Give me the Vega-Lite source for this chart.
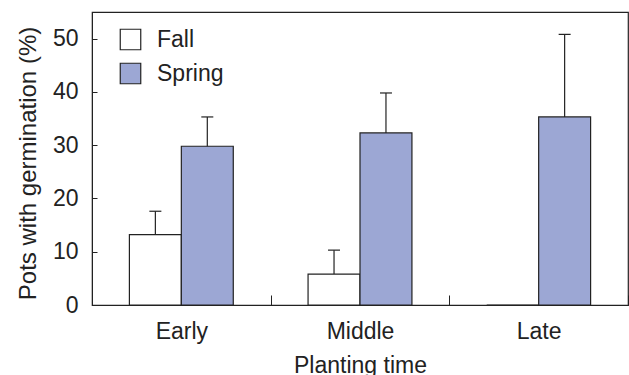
{
  "$schema": "https://vega.github.io/schema/vega-lite/v6.json",
  "width": 536,
  "height": 293,
  "autosize": "none",
  "padding": {"left": 92, "top": 12, "right": 1, "bottom": 70},
  "background": "white",
  "config": {
    "font": "Liberation Sans",
    "view": {"stroke": "#222", "strokeWidth": 1.2},
    "axis": {"domainColor": "#222", "tickColor": "#222", "labelColor": "#222", "titleColor": "#222", "grid": false, "labelFont": "Liberation Sans", "titleFont": "Liberation Sans", "titleFontWeight": "normal"}
  },
  "data": {
    "values": [
      {"time": "Early", "season": "Fall", "value": 13.2, "upper": 17.6},
      {"time": "Early", "season": "Spring", "value": 29.8, "upper": 35.3},
      {"time": "Middle", "season": "Fall", "value": 5.8, "upper": 10.3},
      {"time": "Middle", "season": "Spring", "value": 32.3, "upper": 39.8},
      {"time": "Late", "season": "Fall", "value": 0, "upper": null},
      {"time": "Late", "season": "Spring", "value": 35.3, "upper": 50.8}
    ]
  },
  "encoding": {
    "x": {
      "field": "time", "type": "nominal", "sort": ["Early", "Middle", "Late"],
      "scale": {"paddingInner": 0, "paddingOuter": 0},
      "axis": {"title": "Planting time", "labelAngle": 0, "tickBand": "extent", "tickSize": -10, "labelPadding": 25, "labelFontSize": 23, "titleFontSize": 23, "titlePadding": 11}
    },
    "xOffset": {"field": "season", "type": "nominal", "sort": ["Fall", "Spring"], "scale": {"paddingInner": 0, "paddingOuter": 0.72}}
  },
  "layer": [
    {
      "mark": {"type": "bar", "stroke": "#222", "strokeWidth": 1.2},
      "encoding": {
        "y": {
          "field": "value", "type": "quantitative",
          "scale": {"domain": [0, 55], "nice": false},
          "axis": {"title": "Pots with germination (%)", "values": [0, 10, 20, 30, 40, 50], "tickSize": -5, "labelPadding": 19, "labelFontSize": 23, "titleFontSize": 24, "titlePadding": 12, "titleY": 151}
        },
        "color": {
          "field": "season", "type": "nominal", "sort": ["Fall", "Spring"],
          "scale": {"domain": ["Fall", "Spring"], "range": ["#ffffff", "#9ca7d4"]},
          "legend": {"title": null, "orient": "none", "legendX": 27, "legendY": 16, "symbolType": "square", "symbolSize": 420, "symbolStrokeColor": "#222", "symbolStrokeWidth": 1.2, "symbolOpacity": 1, "labelFontSize": 23, "labelOffset": 15, "rowPadding": 7, "labelColor": "#222"}
        }
      }
    },
    {
      "transform": [{"filter": "datum.upper != null"}],
      "mark": {"type": "rule", "color": "#222", "strokeWidth": 1.2},
      "encoding": {
        "y": {"field": "value", "type": "quantitative"},
        "y2": {"field": "upper"}
      }
    },
    {
      "transform": [{"filter": "datum.upper != null"}],
      "mark": {"type": "tick", "color": "#222", "size": 12, "thickness": 1.2, "orient": "horizontal", "opacity": 1},
      "encoding": {
        "y": {"field": "upper", "type": "quantitative"}
      }
    }
  ]
}
